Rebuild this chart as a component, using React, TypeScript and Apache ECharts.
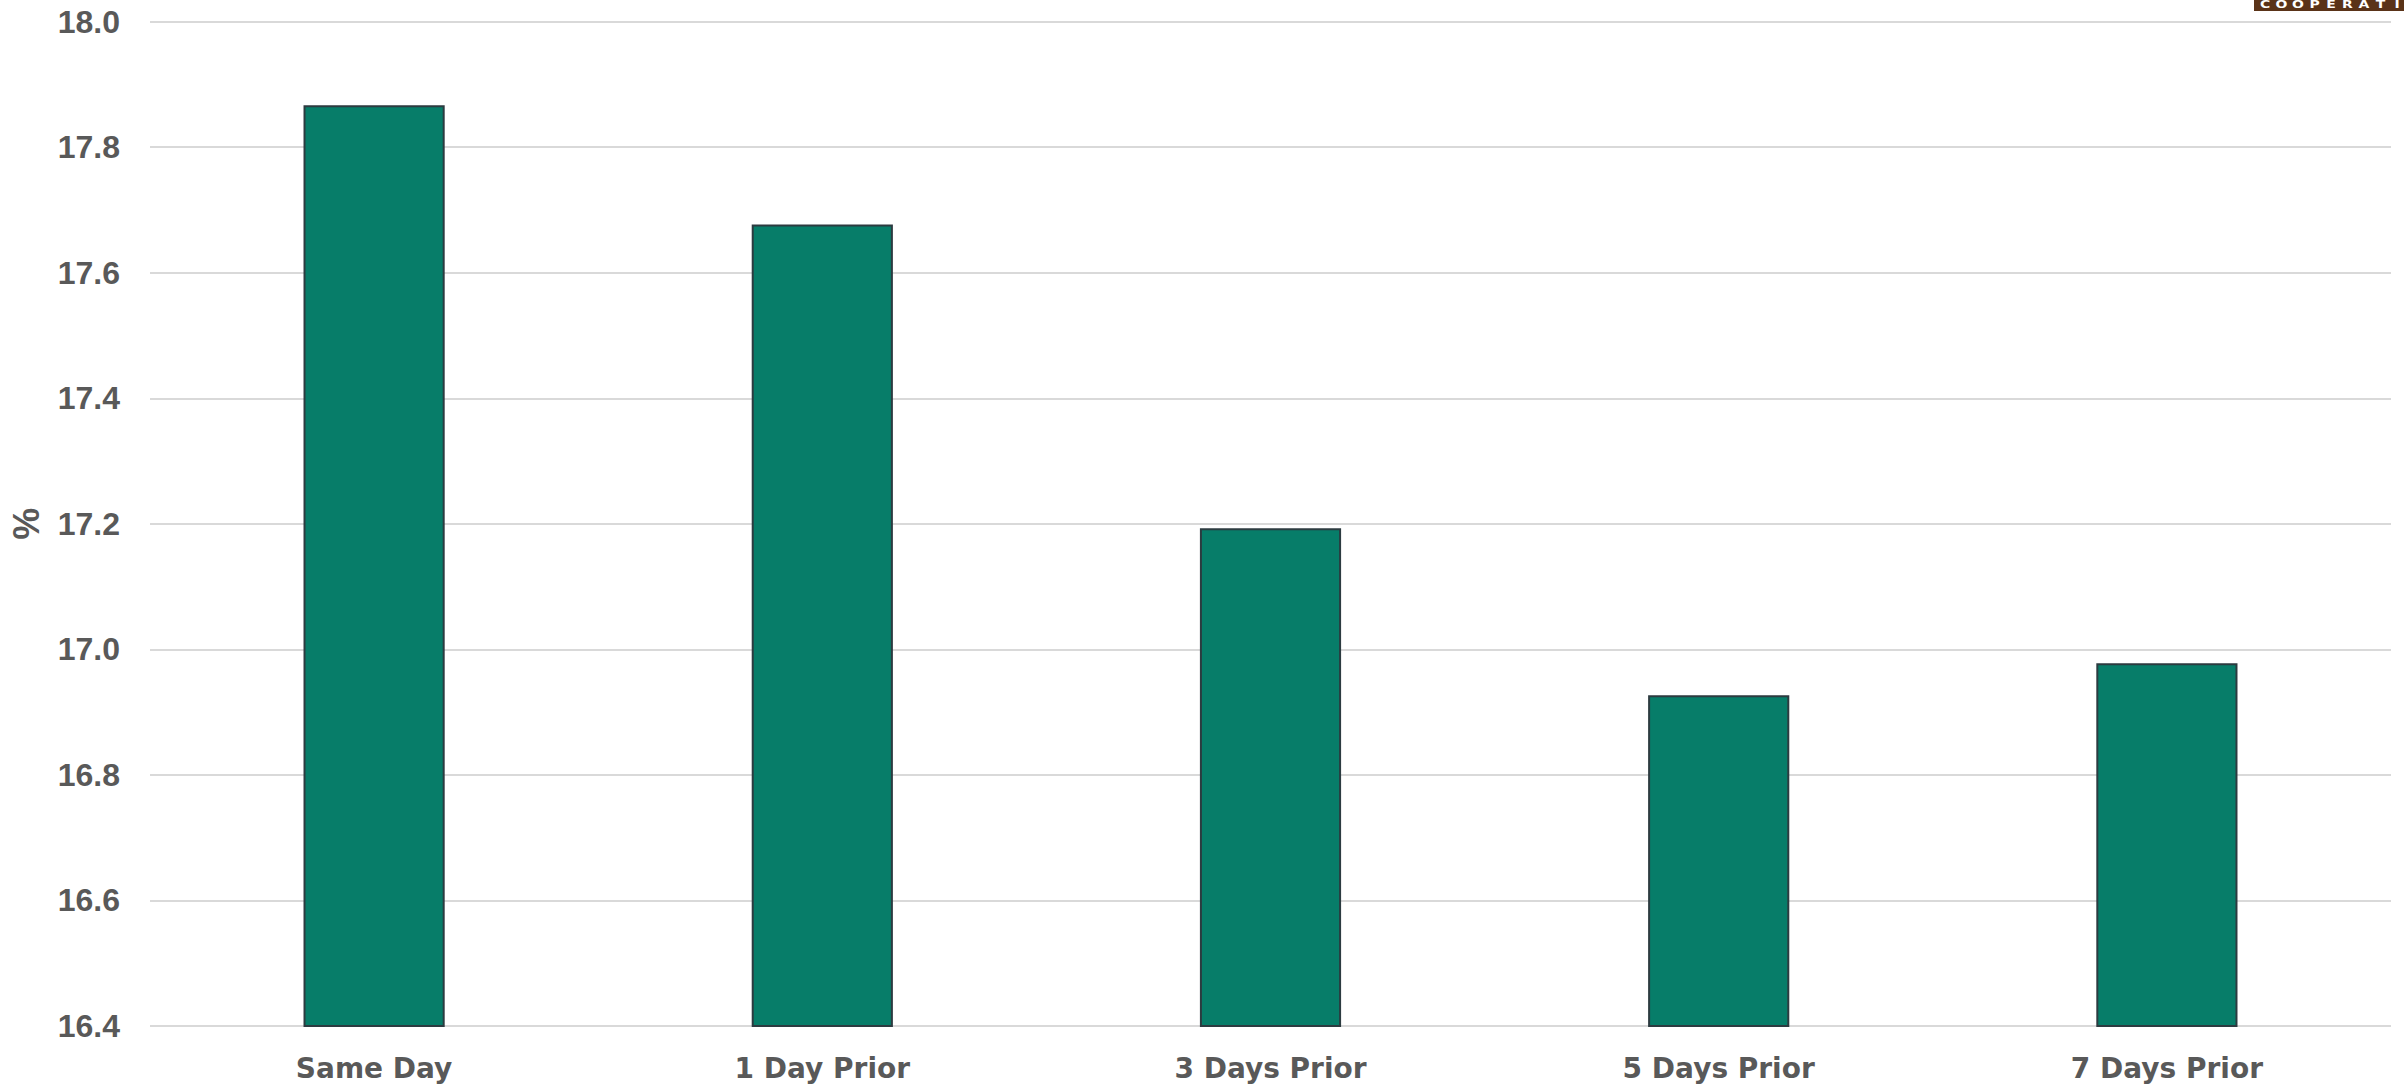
import React, { useEffect, useRef } from "react";
import * as echarts from "echarts";

const categories = ["Same Day", "1 Day Prior", "3 Days Prior", "5 Days Prior", "7 Days Prior"];
const values = [17.867, 17.677, 17.193, 16.927, 16.978];
const yMin = 16.4;
const yMax = 18.0;
const yInterval = 0.2;
const yAxisName = "%";
const logoLetters = ["C", "O", "O", "P", "E", "R", "A", "T", "I"];

export default function App() {
  const ref = useRef<HTMLDivElement>(null);
  useEffect(() => {
    document.body.style.margin = "0";
    const chart = echarts.init(ref.current!, null, { renderer: "svg" });
    const labelColor = "#595959";
    const logo: any[] = [
      {
        type: "rect",
        shape: { x: 2254, y: 0, width: 150, height: 11 },
        style: { fill: "#5a3318" },
        z: 10,
      },
      ...logoLetters.map((ch, i) => ({
        type: "text",
        x: 2265 + i * 16.5,
        y: 4.5,
        scaleX: 1.4,
        z: 11,
        style: {
          text: ch,
          fill: "#ffffff",
          font: "bold 10px 'DejaVu Sans'",
          align: "center",
          verticalAlign: "middle",
        },
      })),
    ];
    chart.setOption({
      animation: false,
      backgroundColor: "#ffffff",
      grid: { left: 149, right: 13, top: 21.7, bottom: 62, containLabel: false },
      xAxis: {
        type: "category",
        data: categories,
        axisLine: { show: false },
        axisTick: { show: false },
        axisLabel: {
          color: labelColor,
          fontFamily: "'DejaVu Sans'",
          fontWeight: "bold",
          fontSize: 28,
          margin: 28,
        },
      },
      yAxis: {
        type: "value",
        min: yMin,
        max: yMax,
        interval: yInterval,
        name: yAxisName,
        nameLocation: "middle",
        nameGap: 106,
        nameRotate: 90,
        nameTextStyle: {
          color: labelColor,
          fontFamily: "'Liberation Sans'",
          fontWeight: "bold",
          fontSize: 36,
        },
        axisLine: { show: false },
        axisTick: { show: false },
        axisLabel: {
          color: labelColor,
          fontFamily: "'Liberation Sans'",
          fontWeight: "bold",
          fontSize: 32,
          margin: 30,
          formatter: (v: number) => v.toFixed(1),
        },
        splitLine: { lineStyle: { color: "#d9d9d9", width: 2 } },
      },
      series: [
        {
          type: "bar",
          data: values,
          barWidth: "31.5%",
          itemStyle: {
            color: "#077d69",
            borderColor: "#2c3b40",
            borderWidth: 2,
          },
        },
      ],
      graphic: logo,
    });
    return () => chart.dispose();
  }, []);
  return (
    <div
      ref={ref}
      style={{ position: "absolute", left: 0, top: 0, width: 2404, height: 1088 }}
    />
  );
}
